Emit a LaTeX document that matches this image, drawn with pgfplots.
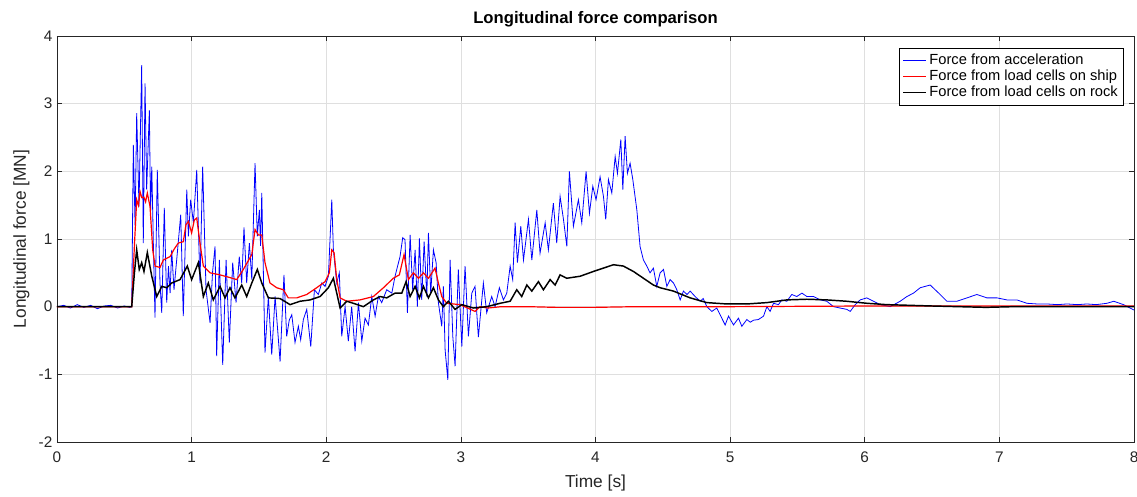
\documentclass[border=0pt]{standalone}
\usepackage{pgfplots}
\pgfplotsset{compat=1.18}
\usepackage{fontspec}
\setmainfont{Liberation Sans}
\usetikzlibrary{calc}
\definecolor{axgray}{RGB}{38,38,38}
\definecolor{gridgray}{RGB}{223,223,223}
\begin{document}
\begin{tikzpicture}
\begin{axis}[
  scale only axis,
  width=807.75pt, height=304.5pt,
  xmin=0, xmax=8, ymin=-2, ymax=4,
  xtick={0,1,...,8}, ytick={-2,-1,...,4},
  tick align=inside,
  major tick length=4pt,
  grid=major,
  major grid style={gridgray, line width=0.5pt},
  axis line style={axgray, line width=0.6pt},
  tick style={axgray, line width=0.5pt},
  every tick label/.append style={font=\fontsize{11.5}{13}\selectfont, text=axgray},
  xticklabel style={yshift=-4pt},
  /pgf/number format/assume math mode=true,
  title={\textbf{Longitudinal force comparison}},
  title style={font=\fontsize{12.5}{14}\selectfont, yshift=-3pt},
  xlabel={Time [s]}, ylabel={Longitudinal force [MN]},
  label style={font=\fontsize{13}{15}\selectfont, text=axgray},
  xlabel style={yshift=-2pt},
  ylabel style={yshift=0pt},
  legend style={at={(1,1)}, anchor=north east, xshift=-7.5pt, yshift=-9pt,
    font=\fontsize{11}{12.5}\selectfont, row sep=-1.5pt, inner sep=2.5pt},
  legend cell align=left,
]
\addplot[blue, line width=0.6pt] coordinates {
(0,0.0)(0.05,0.02)(0.1,-0.02)(0.15,0.03)(0.2,-0.01)(0.25,0.02)(0.3,-0.03)(0.35,0.01)(0.4,0.02)(0.45,-0.02)(0.5,0.01)(0.54,-0.01)(0.555,0.0)
(0.567,2.39)(0.58,1.2)(0.592,2.86)(0.609,1.48)(0.629,3.57)(0.641,0.94)(0.654,3.30)(0.666,1.73)(0.686,2.90)(0.695,1.4)(0.704,2.07)(0.716,0.9)(0.728,-0.16)(0.745,2.02)(0.765,0.35)(0.778,-0.09)(0.797,1.46)(0.815,0.06)(0.828,0.6)(0.840,0.2)(0.852,0.84)(0.869,0.25)(0.894,0.80)(0.919,1.36)(0.938,-0.14)(0.964,1.73)(0.976,1.04)(0.993,1.58)(1.013,1.24)(1.038,2.02)(1.062,0.35)(1.082,2.07)(1.107,0.25)(1.137,-0.24)(1.155,0.5)(1.174,0.89)(1.186,-0.73)(1.206,0.69)(1.231,-0.86)(1.256,0.69)(1.280,-0.53)(1.305,0.65)(1.330,0.06)(1.354,0.74)(1.372,0.35)(1.389,1.17)(1.409,0.35)(1.429,0.94)(1.447,0.40)(1.471,2.12)(1.488,1.04)(1.503,1.43)(1.512,0.9)(1.521,1.68)(1.545,-0.68)(1.570,0.15)(1.595,-0.71)(1.620,0.15)(1.657,-0.81)(1.686,0.47)(1.706,-0.44)(1.725,-0.2)(1.744,-0.12)(1.768,-0.53)(1.793,-0.29)(1.810,-0.49)(1.830,-0.19)(1.855,-0.04)(1.885,-0.59)(1.912,0.25)(1.941,0.18)(1.967,0.35)(1.991,0.30)(2.016,0.45)(2.041,1.58)(2.053,0.84)(2.078,0.35)(2.097,0.50)(2.115,-0.44)(2.140,0.0)(2.164,-0.51)(2.189,0.0)(2.214,-0.66)(2.239,0.06)(2.264,-0.51)(2.288,-0.17)(2.313,-0.27)(2.338,0.15)(2.363,-0.14)(2.387,0.15)(2.412,0.06)(2.449,0.25)(2.487,0.20)(2.511,0.45)(2.548,0.74)(2.568,1.02)(2.585,0.99)(2.603,-0.09)(2.623,1.06)(2.642,0.25)(2.660,0.84)(2.677,0.0)(2.692,1.01)(2.709,0.10)(2.727,0.96)(2.747,0.15)(2.759,1.09)(2.776,0.20)(2.796,0.84)(2.816,0.65)(2.833,0.06)(2.858,-0.29)(2.870,0.3)(2.883,-0.64)(2.903,-1.08)(2.920,0.69)(2.940,-0.44)(2.957,-0.88)(2.981,0.55)(3.007,-0.59)(3.031,0.60)(3.056,-0.44)(3.081,0.20)(3.105,0.30)(3.130,-0.45)(3.167,0.35)(3.192,-0.09)(3.229,0.15)(3.254,0.0)(3.286,0.28)(3.316,0.10)(3.341,0.20)(3.366,0.60)(3.385,0.40)(3.403,1.24)(3.420,0.65)(3.445,1.19)(3.465,0.69)(3.502,1.29)(3.527,0.69)(3.564,1.43)(3.588,0.79)(3.626,1.24)(3.650,0.84)(3.687,1.53)(3.712,0.94)(3.737,1.63)(3.762,1.29)(3.787,0.89)(3.806,2.00)(3.836,1.19)(3.873,1.58)(3.898,1.24)(3.930,2.00)(3.955,1.38)(3.980,1.78)(4.004,1.58)(4.034,1.92)(4.059,1.63)(4.076,1.29)(4.096,1.88)(4.121,1.68)(4.146,2.22)(4.163,1.97)(4.188,2.47)(4.203,1.73)(4.220,2.52)(4.237,1.97)(4.257,2.12)(4.277,1.88)(4.307,1.43)(4.331,0.89)(4.356,0.69)(4.381,0.60)(4.405,0.50)(4.430,0.57)(4.455,0.30)(4.480,0.50)(4.505,0.55)(4.530,0.30)(4.554,0.40)(4.579,0.35)(4.604,0.25)(4.629,0.10)(4.653,0.23)(4.680,0.18)(4.703,0.23)(4.740,0.15)(4.777,0.08)(4.800,0.12)(4.827,0.0)(4.864,-0.07)(4.901,-0.02)(4.938,-0.17)(4.963,-0.27)(4.988,-0.14)(5.025,-0.27)(5.062,-0.17)(5.087,-0.29)(5.124,-0.19)(5.150,-0.23)(5.173,-0.20)(5.210,-0.19)(5.248,-0.14)(5.273,0.0)(5.297,-0.07)(5.322,0.05)(5.359,0.03)(5.384,0.10)(5.421,0.08)(5.458,0.18)(5.495,0.15)(5.533,0.20)(5.570,0.15)(5.619,0.15)(5.669,0.10)(5.718,0.08)(5.768,0.0)(5.817,-0.02)(5.867,-0.04)(5.892,-0.07)(5.929,0.03)(5.966,0.10)(6.015,0.13)(6.065,0.08)(6.114,0.03)(6.189,0.0)(6.263,0.08)(6.313,0.15)(6.362,0.20)(6.412,0.28)(6.449,0.30)(6.486,0.32)(6.523,0.25)(6.560,0.18)(6.610,0.08)(6.684,0.08)(6.759,0.13)(6.833,0.18)(6.907,0.13)(6.982,0.13)(7.056,0.10)(7.130,0.10)(7.204,0.05)(7.280,0.04)(7.353,0.04)(7.430,0.03)(7.502,0.04)(7.580,0.03)(7.650,0.04)(7.720,0.03)(7.799,0.05)(7.85,0.08)(7.922,0.03)(8.0,-0.05)
};
\addlegendentry{Force from acceleration}
\addplot[red, line width=0.9pt] coordinates {
(0,0)(0.3,0.0)(0.555,0.0)(0.575,0.9)(0.592,1.58)(0.605,1.5)(0.617,1.70)(0.630,1.61)(0.645,1.62)(0.658,1.55)(0.671,1.68)(0.691,1.48)(0.711,0.84)(0.728,0.60)(0.765,0.58)(0.790,0.69)(0.840,0.74)(0.870,0.85)(0.901,0.94)(0.938,0.96)(0.958,1.21)(0.976,1.26)(1.0,1.09)(1.02,1.28)(1.038,1.31)(1.062,0.94)(1.087,0.60)(1.137,0.50)(1.211,0.47)(1.285,0.43)(1.335,0.40)(1.384,0.55)(1.447,0.77)(1.471,1.14)(1.496,1.06)(1.521,1.06)(1.545,0.65)(1.582,0.35)(1.632,0.28)(1.681,0.25)(1.718,0.13)(1.781,0.13)(1.855,0.18)(1.929,0.28)(1.991,0.37)(2.023,0.50)(2.041,0.84)(2.058,0.80)(2.078,0.40)(2.103,0.13)(2.152,0.08)(2.251,0.10)(2.350,0.15)(2.425,0.28)(2.498,0.42)(2.543,0.47)(2.578,0.77)(2.610,0.40)(2.647,0.50)(2.685,0.42)(2.722,0.50)(2.759,0.42)(2.808,0.57)(2.833,0.35)(2.858,0.15)(2.895,0.05)(2.994,0.03)(3.05,-0.02)(3.105,-0.07)(3.142,0.0)(3.2,-0.02)(3.3,0.0)(3.5,0.0)(3.7,-0.01)(4.0,-0.01)(4.3,0.0)(5,0.0)(6,0.01)(7,0.01)(8,0.01)
};
\addlegendentry{Force from load cells on ship}
\addplot[black, line width=1.1pt] coordinates {
(0,0)(0.555,0)(0.575,0.5)(0.592,0.84)(0.611,0.55)(0.629,0.65)(0.646,0.52)(0.671,0.80)(0.704,0.45)(0.741,0.15)(0.778,0.30)(0.815,0.28)(0.852,0.35)(0.914,0.40)(0.968,0.60)(1.0,0.40)(1.050,0.65)(1.087,0.15)(1.124,0.35)(1.161,0.10)(1.211,0.30)(1.248,0.13)(1.285,0.28)(1.322,0.13)(1.372,0.32)(1.409,0.15)(1.447,0.35)(1.488,0.55)(1.521,0.35)(1.570,0.13)(1.657,0.12)(1.731,0.03)(1.805,0.08)(1.880,0.10)(1.954,0.15)(2.016,0.28)(2.053,0.42)(2.078,0.20)(2.103,-0.02)(2.152,0.08)(2.201,0.05)(2.276,0.0)(2.350,0.10)(2.400,0.15)(2.449,0.13)(2.511,0.20)(2.561,0.20)(2.593,0.37)(2.623,0.15)(2.660,0.30)(2.692,0.13)(2.722,0.30)(2.759,0.13)(2.796,0.28)(2.833,0.10)(2.870,0.0)(2.907,0.08)(2.957,-0.04)(3.007,0.03)(3.093,-0.02)(3.192,0.0)(3.291,0.05)(3.366,0.08)(3.415,0.25)(3.452,0.15)(3.490,0.32)(3.527,0.23)(3.576,0.37)(3.613,0.25)(3.663,0.40)(3.700,0.32)(3.737,0.47)(3.787,0.42)(3.886,0.45)(3.984,0.52)(4.059,0.57)(4.133,0.62)(4.207,0.60)(4.282,0.52)(4.356,0.42)(4.430,0.32)(4.480,0.28)(4.579,0.23)(4.703,0.13)(4.827,0.06)(4.975,0.04)(5.124,0.04)(5.273,0.06)(5.421,0.10)(5.570,0.11)(5.718,0.10)(5.867,0.08)(6.015,0.05)(6.164,0.03)(6.5,0.01)(6.9,-0.01)(7.1,0.0)(8.0,0.0)
};
\addlegendentry{Force from load cells on rock}
\end{axis}
\pgfresetboundingbox
\path[use as bounding box] ($(current axis.south west)+(-42.75pt,-40.5pt)$) rectangle ($(current axis.north east)+(2.25pt,27pt)$);
\end{tikzpicture}
\end{document}
